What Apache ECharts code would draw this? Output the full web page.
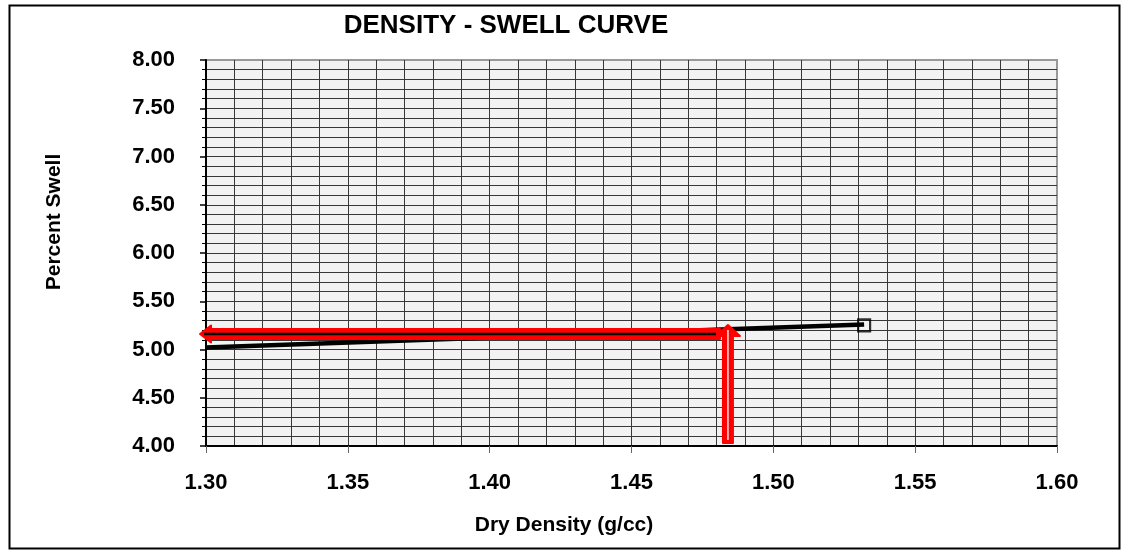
<!DOCTYPE html>
<html>
<head>
<meta charset="utf-8">
<script src="https://cdn.jsdelivr.net/npm/echarts@6/dist/echarts.min.js"></script>
<style>
  html, body { margin: 0; padding: 0; background: #ffffff; }
  #chart { width: 1123px; height: 552px; }
</style>
</head>
<body>
<div id="chart"></div>
<script>
// Measured swell points: dry density (g/cc) and percent swell
const densityPoints = [1.3645, 1.532];
const swellPoints = [5.14, 5.25];

// Trend line through the test results
const trendDensity = [1.30, 1.532];
const trendSwell = [5.02, 5.26];

// Read-off arrows [fromDensity, fromSwell, toDensity, toSwell]
const upArrow = [1.484, 4.03, 1.484, 5.254];
const leftArrow = [1.4812, 5.161, 1.2979, 5.161];

// Axis ranges and tick steps
const xRange = [1.30, 1.60];
const xStep = 0.05;
const yRange = [4.00, 8.00];
const yStep = 0.5;

const FONT = '"Liberation Sans", Arial, sans-serif';

// Block arrow drawn in pixel space from two data coordinates
function blockArrow(hw, hh, hl, lineColor, lineWidth, tailInset, tipInset) {
  return function (params, api) {
    const a = api.coord([api.value(0), api.value(1)]);
    const b = api.coord([api.value(2), api.value(3)]);
    const dx = b[0] - a[0], dy = b[1] - a[1];
    const len = Math.hypot(dx, dy);
    const ux = dx / len, uy = dy / len;
    const nx = -uy, ny = ux;
    const bx = b[0] - ux * hl, by = b[1] - uy * hl;
    const pts = [
      [a[0] + nx * hw, a[1] + ny * hw],
      [bx + nx * hw, by + ny * hw],
      [bx + nx * hh, by + ny * hh],
      [b[0], b[1]],
      [bx - nx * hh, by - ny * hh],
      [bx - nx * hw, by - ny * hw],
      [a[0] - nx * hw, a[1] - ny * hw]
    ];
    return {
      type: 'group',
      children: [
        {
          type: 'polygon',
          shape: { points: pts },
          style: { fill: '#ff0000', stroke: '#ff0000', lineWidth: 2, lineJoin: 'round' }
        },
        {
          type: 'line',
          shape: {
            x1: a[0] + ux * tailInset, y1: a[1] + uy * tailInset,
            x2: b[0] - ux * tipInset, y2: b[1] - uy * tipInset
          },
          style: { stroke: lineColor, lineWidth: lineWidth }
        }
      ]
    };
  };
}

const chart = echarts.init(document.getElementById('chart'), null, { renderer: 'canvas' });

const gridLine = { color: '#383838', width: 1 };

chart.setOption({
  animation: false,
  backgroundColor: '#ffffff',
  grid: {
    left: 206, right: 66, top: 60, bottom: 106,
    show: true,
    backgroundColor: '#f2f2f2',
    borderColor: '#999999',
    borderWidth: 2
  },
  xAxis: {
    type: 'value',
    min: xRange[0], max: xRange[1], interval: xStep,
    axisLine: { show: true, onZero: false, lineStyle: { color: '#000000', width: 2 } },
    axisTick: { show: true, length: 7, lineStyle: { color: '#666666', width: 1 } },
    minorTick: { show: false, splitNumber: 5 },
    splitLine: { show: true, showMaxLine: false, lineStyle: gridLine },
    minorSplitLine: { show: true, lineStyle: gridLine },
    axisLabel: {
      margin: 26,
      fontSize: 22, fontWeight: 'bold', fontFamily: FONT, color: '#000000',
      formatter: v => v.toFixed(2)
    }
  },
  yAxis: {
    type: 'value',
    min: yRange[0], max: yRange[1], interval: yStep,
    axisLine: { show: true, onZero: false, lineStyle: { color: '#000000', width: 2 } },
    axisTick: { show: true, length: 6, lineStyle: { color: '#000000', width: 1.5 } },
    minorTick: { show: true, splitNumber: 5, length: 4, lineStyle: { color: '#000000', width: 1 } },
    splitLine: { show: true, showMaxLine: false, lineStyle: gridLine },
    minorSplitLine: { show: true, lineStyle: gridLine },
    axisLabel: {
      margin: 31,
      fontSize: 22, fontWeight: 'bold', fontFamily: FONT, color: '#000000',
      formatter: v => v.toFixed(2)
    }
  },
  graphic: [
    {
      type: 'rect',
      shape: { x: 9.5, y: 5.5, width: 1110, height: 543 },
      style: { fill: null, stroke: '#000000', lineWidth: 2 },
      silent: true
    },
    {
      type: 'text', x: 506, y: 26,
      style: {
        text: 'DENSITY - SWELL CURVE', fill: '#000000',
        font: 'bold 26px ' + FONT, align: 'center', verticalAlign: 'middle'
      }
    },
    {
      type: 'text', x: 54, y: 222, rotation: Math.PI / 2,
      style: {
        text: 'Percent Swell', fill: '#000000',
        font: 'bold 21px ' + FONT, align: 'center', verticalAlign: 'middle'
      }
    },
    {
      type: 'text', x: 564, y: 525,
      style: {
        text: 'Dry Density (g/cc)', fill: '#000000',
        font: 'bold 21px ' + FONT, align: 'center', verticalAlign: 'middle'
      }
    }
  ],
  series: [
    {
      name: 'Trend',
      type: 'line',
      data: trendDensity.map((d, i) => [d, trendSwell[i]]),
      showSymbol: false,
      symbol: 'none',
      lineStyle: { color: '#000000', width: 4.5 },
      z: 3,
      silent: true
    },
    {
      name: 'Test points',
      type: 'scatter',
      data: densityPoints.map((d, i) => [d, swellPoints[i]]),
      symbol: 'rect',
      symbolSize: 12,
      itemStyle: { color: 'rgba(0,0,0,0)', borderColor: '#000000', borderWidth: 2.2 },
      z: 4,
      silent: true
    },
    {
      name: 'Design density',
      type: 'custom',
      data: [upArrow],
      encode: { x: [0, 2], y: [1, 3] },
      renderItem: blockArrow(5, 12, 11, '#ffe4e4', 1.5, 3, 5),
      clip: false,
      z: 6,
      silent: true
    },
    {
      name: 'Swell read-off',
      type: 'custom',
      data: [leftArrow],
      encode: { x: [0, 2], y: [1, 3] },
      renderItem: blockArrow(5, 8.5, 11, '#000000', 2.5, 4, 4),
      clip: false,
      z: 7,
      silent: true
    }
  ]
});
</script>
</body>
</html>
